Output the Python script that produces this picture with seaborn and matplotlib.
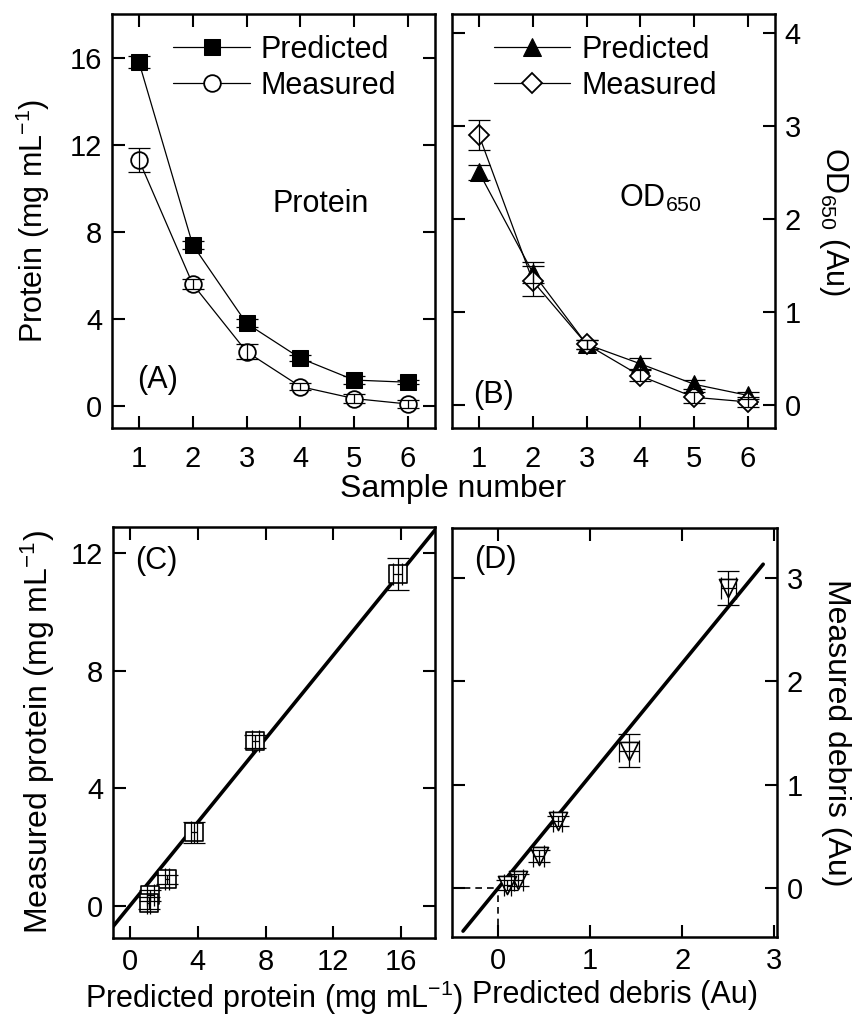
import numpy as np
import matplotlib
matplotlib.use("Agg")
import matplotlib.pyplot as plt
import seaborn as sns

# ---------------- data ----------------
samples = [1, 2, 3, 4, 5, 6]
protein_predicted = [15.8, 7.4, 3.8, 2.2, 1.2, 1.1]
protein_predicted_err = [0.27, 0.2, 0.18, 0.13, 0.2, 0.1]
protein_measured = [11.3, 5.6, 2.5, 0.9, 0.35, 0.1]
protein_measured_err = [0.55, 0.23, 0.35, 0.15, 0.2, 0.2]

od_predicted = [2.5, 1.42, 0.65, 0.44, 0.22, 0.1]
od_predicted_err = [0.08, 0.11, 0.05, 0.06, 0.05, 0.04]
od_measured = [2.9, 1.33, 0.65, 0.31, 0.08, 0.03]
od_measured_err = [0.16, 0.16, 0.05, 0.06, 0.06, 0.05]

protein_fit_range = [-1.0, 18.0]
debris_fit_range = [-0.38, 2.88]

# ---------------- style ----------------
sns.set_style("ticks")
plt.rcParams['font.family'] = ['Liberation Sans', 'DejaVu Sans']
plt.rcParams['mathtext.fontset'] = 'custom'
plt.rcParams['mathtext.rm'] = 'Liberation Sans'
plt.rcParams['mathtext.it'] = 'Liberation Sans'
plt.rcParams['axes.linewidth'] = 1.8
for key in ('text.color', 'axes.labelcolor', 'xtick.color', 'ytick.color',
            'axes.edgecolor'):
    plt.rcParams[key] = 'black'

TICK_FS = 21
LAB_FS = 22
LEG_FS = 22
CAP = 8

fig = plt.figure(figsize=(8.56, 10.21), dpi=100)
W, H = 856.0, 1021.0


def add_ax(l, r, t, b):
    return fig.add_axes([l / W, 1 - b / H, (r - l) / W, (b - t) / H])


axA = add_ax(112, 435, 14, 428)
axB = add_ax(452, 775, 14, 428)
axC = add_ax(113, 435, 527, 938)
axD = add_ax(452, 777, 528, 937)

for ax in (axA, axB, axC, axD):
    ax.tick_params(direction='in', length=9, width=1.5, top=True, right=True,
                   labelsize=TICK_FS, pad=7, colors='black')
    for s in ax.spines.values():
        s.set_linewidth(1.8)
        s.set_color('k')
        s.set_visible(True)

# ---------------- Panel A ----------------
ax = axA
sns.lineplot(x=samples, y=protein_predicted, ax=ax, color='k', lw=0.9,
             marker='s', markersize=11, markerfacecolor='k', markeredgecolor='k',
             label='Predicted', zorder=3)
sns.lineplot(x=samples, y=protein_measured, ax=ax, color='k', lw=0.9,
             marker='o', markersize=12, markerfacecolor='white', markeredgecolor='k',
             markeredgewidth=1.3, label='Measured', zorder=3)
ax.errorbar(samples, protein_predicted, yerr=protein_predicted_err, fmt='none',
            ecolor='k', elinewidth=0.9, capsize=CAP, capthick=0.9, zorder=4)
ax.errorbar(samples, protein_measured, yerr=protein_measured_err, fmt='none',
            ecolor='k', elinewidth=0.9, capsize=CAP, capthick=0.9, zorder=4)
ax.set_xlim(0.5, 6.5)
ax.set_ylim(-1, 18)
ax.set_xticks(samples)
ax.set_yticks([0, 4, 8, 12, 16])
ax.set_xlabel('')
ax.set_ylabel('Protein (mg mL$^{-1}$)', fontsize=LAB_FS, va='bottom')
ax.yaxis.set_label_coords(-0.185, 0.5)
ax.tick_params(axis='x', pad=12)
ax.legend(loc='upper left', bbox_to_anchor=(0.19, 0.95), frameon=False,
          fontsize=LEG_FS, handlelength=2.5, handletextpad=0.35,
          labelspacing=0.2, borderpad=0, borderaxespad=0)
ax.text(0.142, 0.116, '(A)', transform=ax.transAxes, fontsize=LAB_FS,
        ha='center', va='center')
ax.text(0.647, 0.541, 'Protein', transform=ax.transAxes, fontsize=LAB_FS,
        ha='center', va='center')

# ---------------- Panel B ----------------
ax = axB
sns.lineplot(x=samples, y=od_predicted, ax=ax, color='k', lw=0.9,
             marker='^', markersize=13, markerfacecolor='k', markeredgecolor='k',
             label='Predicted', zorder=3)
sns.lineplot(x=samples, y=od_measured, ax=ax, color='k', lw=0.9,
             marker='D', markersize=10, markerfacecolor='white', markeredgecolor='k',
             markeredgewidth=1.3, label='Measured', zorder=3)
ax.errorbar(samples, od_predicted, yerr=od_predicted_err, fmt='none',
            ecolor='k', elinewidth=0.9, capsize=CAP, capthick=0.9, zorder=4)
ax.errorbar(samples, od_measured, yerr=od_measured_err, fmt='none',
            ecolor='k', elinewidth=0.9, capsize=CAP, capthick=0.9, zorder=4)
ax.set_xlim(0.5, 6.5)
ax.set_ylim(-0.25, 4.2)
ax.set_xticks(samples)
ax.set_yticks([0, 1, 2, 3, 4])
ax.set_xlabel('')
ax.tick_params(axis='y', labelleft=False, labelright=True)
ax.tick_params(axis='x', pad=12)
ax.yaxis.set_label_position('right')
ax.set_ylabel('OD$_{650}$ (Au)', fontsize=LAB_FS, rotation=270, va='bottom')
ax.yaxis.set_label_coords(1.13, 0.5)
ax.legend(loc='upper left', bbox_to_anchor=(0.13, 0.95), frameon=False,
          fontsize=LEG_FS, handlelength=2.5, handletextpad=0.35,
          labelspacing=0.2, borderpad=0, borderaxespad=0)
ax.text(0.127, 0.08, '(B)', transform=ax.transAxes, fontsize=LAB_FS,
        ha='center', va='center')
ax.text(0.644, 0.555, 'OD$_{650}$', transform=ax.transAxes, fontsize=LAB_FS,
        ha='center', va='center')

fig.text(453 / W, 1 - 489 / H, 'Sample number', fontsize=LAB_FS + 1,
         ha='center', va='center')

# ---------------- Panel C ----------------
ax = axC
px = np.array(protein_predicted)
my = np.array(protein_measured)
slope_c = np.sum(px * my) / np.sum(px * px)
fit_xc = np.array(protein_fit_range)
sns.lineplot(x=fit_xc, y=slope_c * fit_xc, ax=ax, color='k', lw=2.6, zorder=2)
sns.scatterplot(x=protein_predicted, y=protein_measured, ax=ax, marker='s', s=150,
                color='white', edgecolor='k', linewidth=1.2, zorder=3)
ax.errorbar(protein_predicted, protein_measured, xerr=protein_predicted_err,
            yerr=protein_measured_err, fmt='none', ecolor='k', elinewidth=0.9,
            capsize=CAP, capthick=0.9, zorder=4)
ax.set_xlim(-1, 18)
ax.set_ylim(-1.1, 12.9)
ax.set_xticks([0, 4, 8, 12, 16])
ax.set_yticks([0, 4, 8, 12])
ax.set_xlabel('Predicted protein (mg mL$^{-1}$)', fontsize=LAB_FS, va='top')
ax.xaxis.set_label_coords(0.5, -0.1)
ax.set_ylabel('Measured protein (mg mL$^{-1}$)', fontsize=LAB_FS + 1, va='bottom')
ax.yaxis.set_label_coords(-0.175, 0.5)
ax.text(0.134, 0.917, '(C)', transform=ax.transAxes, fontsize=LAB_FS,
        ha='center', va='center')

# ---------------- Panel D ----------------
ax = axD
dx = np.array(od_predicted)
dy = np.array(od_measured)
slope_d = np.sum(dx * dy) / np.sum(dx * dx)
fit_xd = np.array(debris_fit_range)
xl = (-0.5, 3.03)
yl = (-0.47, 3.48)
ax.plot([xl[0], 0], [0, 0], color='k', lw=1.2, ls=(0, (4, 3)), zorder=1)
ax.plot([0, 0], [yl[0], 0], color='k', lw=1.2, ls=(0, (4, 3)), zorder=1)
sns.lineplot(x=fit_xd, y=slope_d * fit_xd, ax=ax, color='k', lw=2.6, zorder=2)
sns.scatterplot(x=od_predicted, y=od_measured, ax=ax, marker='v', s=170,
                color='white', edgecolor='k', linewidth=1.2, zorder=3)
ax.errorbar(od_predicted, od_measured, xerr=od_predicted_err,
            yerr=od_measured_err, fmt='none', ecolor='k', elinewidth=0.9,
            capsize=CAP, capthick=0.9, zorder=4)
ax.set_xlim(*xl)
ax.set_ylim(*yl)
ax.set_xticks([0, 1, 2, 3])
ax.set_yticks([0, 1, 2, 3])
ax.tick_params(axis='y', labelleft=False, labelright=True)
ax.set_xlabel('Predicted debris (Au)', fontsize=LAB_FS, va='top')
ax.xaxis.set_label_coords(0.5, -0.105)
ax.yaxis.set_label_position('right')
ax.set_ylabel('Measured debris (Au)', fontsize=LAB_FS + 1, rotation=270, va='bottom')
ax.yaxis.set_label_coords(1.135, 0.5)
ax.text(0.132, 0.922, '(D)', transform=ax.transAxes, fontsize=LAB_FS,
        ha='center', va='center')

fig.savefig('out.png', dpi=100)
